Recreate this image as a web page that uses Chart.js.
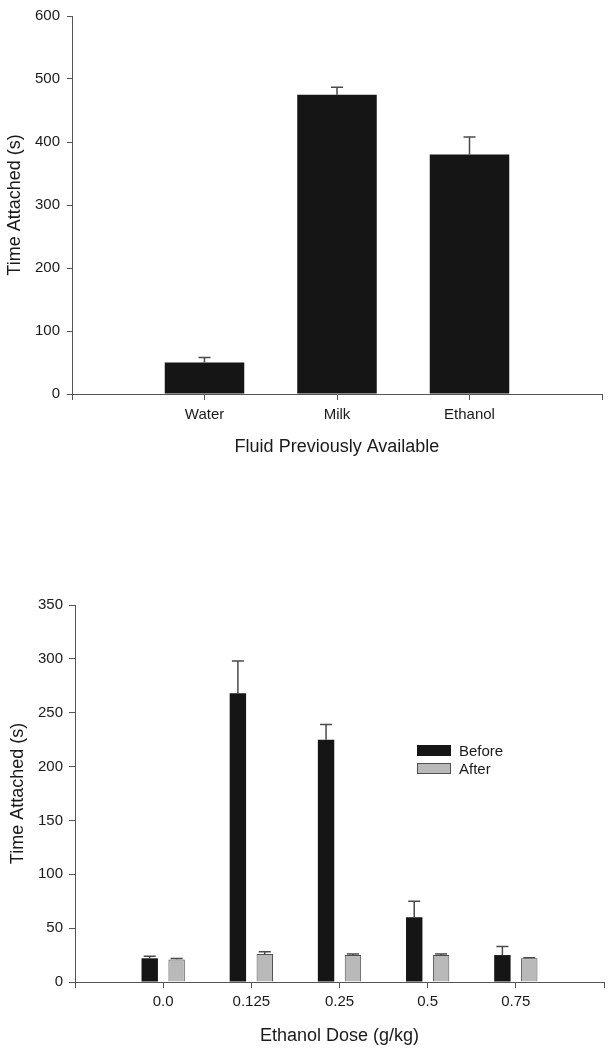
<!DOCTYPE html>
<html><head><meta charset="utf-8">
<script src="https://cdn.jsdelivr.net/npm/chart.js@4.4.1/dist/chart.umd.min.js"></script>
<style>
body{margin:0;background:#fff;width:611px;height:1049px;position:relative;overflow:hidden;font-family:"Liberation Sans",Arial,sans-serif;}
#c1{position:absolute;left:0;top:0;}
#c2{position:absolute;left:0;top:590px;}
#legend{position:absolute;left:417px;top:741px;font-size:15px;color:#1a1a1a;}
.item{display:flex;align-items:center;height:18px;white-space:nowrap;}
.sw{width:34px;height:11px;box-sizing:border-box;margin-right:8px;}
</style></head><body>
<canvas id="c1" width="611" height="470"></canvas>
<canvas id="c2" width="611" height="459"></canvas>
<div id="legend"></div>
<script>
// ---- data ----
const fluidLabels = ['Water', 'Milk', 'Ethanol'];
const fluidMeans = [50, 475, 380];
const fluidErrors = [8, 12, 28];

const doseLabels = ['0.0', '0.125', '0.25', '0.5', '0.75'];
const beforeMeans = [22, 268, 225, 60, 25];
const beforeErrors = [2, 30, 14, 15, 8];
const afterMeans = [21, 26, 25, 25, 22];
const afterErrors = [0.8, 2, 1, 1, 0.6];

const seriesNames = ['Before', 'After'];
const topYMax = 600, topYStep = 100;
const botYMax = 350, botYStep = 50;

// ---- styling ----
Chart.defaults.font.family = '"Liberation Sans", Arial, sans-serif';
Chart.defaults.color = '#1a1a1a';
const axisColor = '#555';
const beforeColor = '#151515';
const afterColor = '#b9b9b9';
const afterBorder = '#505050';

const errorBars = {
  id: 'errorBars',
  afterDatasetsDraw(chart) {
    const ctx = chart.ctx, ys = chart.scales.y;
    chart.data.datasets.forEach((ds, i) => {
      const meta = chart.getDatasetMeta(i);
      meta.data.forEach((bar, j) => {
        const v = ds.data[j].y, e = ds.errors[j];
        const yTop = ys.getPixelForValue(v + e), yBar = ys.getPixelForValue(v);
        ctx.save();
        ctx.strokeStyle = '#4a4a4a';
        ctx.lineWidth = 1.5;
        ctx.beginPath();
        ctx.moveTo(bar.x, yBar); ctx.lineTo(bar.x, yTop);
        ctx.moveTo(bar.x - 6, yTop); ctx.lineTo(bar.x + 6, yTop);
        ctx.stroke();
        ctx.restore();
      });
    });
  }
};

function xAxis(n, labels, height, title, tickPad, titlePad) {
  const vals = [];
  for (let i = 0; i <= n; i++) vals.push(i);
  return {
    type: 'linear', min: 0, max: n, offset: false,
    afterBuildTicks(s) { s.ticks = vals.map(v => ({ value: v })); },
    afterFit(s) { s.height = height; },
    ticks: { autoSkip: false, maxRotation: 0, padding: tickPad, font: { size: 15 },
      callback: (v) => labels[v - 1] ?? '' },
    grid: { display: true, offset: false, drawOnChartArea: false, drawTicks: true, tickLength: 6, color: axisColor, lineWidth: 1 },
    border: { display: true, color: axisColor, width: 1 },
    title: { display: true, text: title, font: { size: 18 }, padding: { top: 0, bottom: titlePad } }
  };
}
function yAxis(max, step, width, tickLen, tickPad, titlePad) {
  return {
    min: 0, max: max,
    afterFit(s) { s.width = width; },
    ticks: { stepSize: step, padding: tickPad, font: { size: 15 } },
    grid: { display: true, drawOnChartArea: false, tickLength: tickLen, color: axisColor, lineWidth: 1 },
    border: { display: true, color: axisColor, width: 1 },
    title: { display: true, text: 'Time Attached (s)', font: { size: 18 }, padding: { top: titlePad, bottom: 0 } }
  };
}

new Chart(document.getElementById('c1'), {
  type: 'bar',
  data: {
    datasets: [{
      label: 'Time Attached',
      data: fluidMeans.map((y, i) => ({ x: i + 1, y })),
      errors: fluidErrors,
      backgroundColor: beforeColor, borderWidth: 0,
      barPercentage: 0.6, categoryPercentage: 1.0
    }]
  },
  options: {
    responsive: false, animation: false, devicePixelRatio: 1,
    layout: { padding: { top: 13, right: 9, left: 0, bottom: 0 } },
    plugins: { legend: { display: false }, tooltip: { enabled: false } },
    scales: {
      x: xAxis(4, fluidLabels, 76, 'Fluid Previously Available', 6, 12),
      y: yAxis(topYMax, topYStep, 72, 5, 7, 4)
    }
  },
  plugins: [errorBars]
});

new Chart(document.getElementById('c2'), {
  type: 'bar',
  data: {
    datasets: [{
      label: seriesNames[0],
      data: beforeMeans.map((y, i) => ({ x: i + 1, y })),
      errors: beforeErrors,
      backgroundColor: beforeColor, borderWidth: 0,
      barPercentage: 0.61, categoryPercentage: 0.61
    }, {
      label: seriesNames[1],
      data: afterMeans.map((y, i) => ({ x: i + 1, y })),
      errors: afterErrors,
      backgroundColor: afterColor, borderColor: afterBorder, borderWidth: 1,
      barPercentage: 0.61, categoryPercentage: 0.61
    }]
  },
  options: {
    responsive: false, animation: false, devicePixelRatio: 1,
    layout: { padding: { top: 13, right: 7, left: 0, bottom: 0 } },
    plugins: { legend: { display: false }, tooltip: { enabled: false } },
    scales: {
      x: xAxis(6, doseLabels, 67, 'Ethanol Dose (g/kg)', 5, 2),
      y: yAxis(botYMax, botYStep, 75, 6, 6, 7)
    }
  },
  plugins: [errorBars]
});

// HTML legend built from series names/colours
const legend = document.getElementById('legend');
[[seriesNames[0], beforeColor, beforeColor], [seriesNames[1], afterColor, afterBorder]].forEach(([name, fill, border]) => {
  const row = document.createElement('div'); row.className = 'item';
  const sw = document.createElement('div'); sw.className = 'sw';
  sw.style.background = fill; sw.style.border = '1px solid ' + border;
  const t = document.createElement('span'); t.textContent = name;
  row.appendChild(sw); row.appendChild(t); legend.appendChild(row);
});
</script>
</body></html>
